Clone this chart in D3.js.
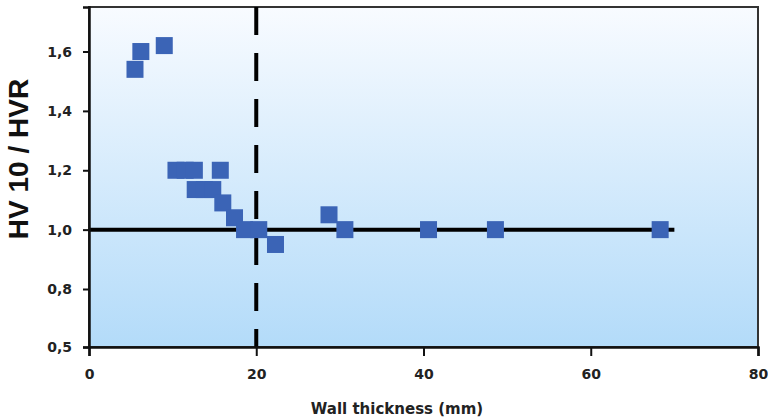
<!DOCTYPE html>
<html>
<head>
<meta charset="utf-8">
<script src="https://cdn.jsdelivr.net/npm/d3@7"></script>
<style>
  body { margin: 0; background: #fff; }
  svg { display: block; }
  .tick text { font-family: "DejaVu Sans", sans-serif; font-weight: bold; font-size: 14px; fill: #222; }
</style>
</head>
<body>
<div id="chart"></div>
<script>
// Data
const thickness = [5.5, 6.2, 9.0, 10.4, 11.5, 12.6, 12.7, 13.8, 14.8, 15.7, 16.0, 17.4, 18.6, 20.3, 22.3, 28.7, 30.6, 40.6, 48.6, 68.3];
const ratio = [1.54, 1.60, 1.62, 1.20, 1.20, 1.20, 1.135, 1.135, 1.135, 1.20, 1.09, 1.04, 1.00, 1.00, 0.95, 1.05, 1.00, 1.00, 1.00, 1.00];
const xTicks = [0, 20, 40, 60, 80];
const yTicks = [0.5, 0.8, 1.0, 1.2, 1.4, 1.6];
const refLevel = 1.0;       // horizontal reference line
const refLineEnd = 70;      // where the reference line stops
const limitThickness = 20;  // dashed vertical line

const width = 768, height = 420;
const margin = { top: 7, right: 10, bottom: 73, left: 89 };
const w = width - margin.left - margin.right;
const h = height - margin.top - margin.bottom;

const svg = d3.select("#chart").append("svg")
    .attr("width", width)
    .attr("height", height);

const defs = svg.append("defs");
const grad = defs.append("linearGradient")
    .attr("id", "bg")
    .attr("x1", 0).attr("y1", 0).attr("x2", 0).attr("y2", 1);
grad.append("stop").attr("offset", "0%").attr("stop-color", "#f8fbff");
grad.append("stop").attr("offset", "100%").attr("stop-color", "#b3dbf9");

const g = svg.append("g")
    .attr("transform", `translate(${margin.left},${margin.top})`);

const x = d3.scaleLinear().domain([0, 80]).range([0, w]);
// the bottom of the axis is labelled 0,5 but sits closer than the 0.2 step
const y = d3.scaleLinear().domain([0.5, 0.8, 1.75]).range([h, 282, 0]);

g.append("rect")
    .attr("width", w)
    .attr("height", h)
    .attr("fill", "url(#bg)")
    .attr("stroke", "#333")
    .attr("stroke-width", 2);

// reference lines
g.append("line")
    .attr("x1", x(0)).attr("x2", x(refLineEnd))
    .attr("y1", y(refLevel)).attr("y2", y(refLevel))
    .attr("stroke", "#000")
    .attr("stroke-width", 4);

g.append("line")
    .attr("x1", x(limitThickness)).attr("x2", x(limitThickness))
    .attr("y1", 0).attr("y2", h)
    .attr("stroke", "#000")
    .attr("stroke-width", 4)
    .attr("stroke-dasharray", "28,18");

// markers
const size = 17;
g.selectAll("rect.pt")
    .data(thickness.map((t, i) => [t, ratio[i]]))
    .join("rect")
    .attr("class", "pt")
    .attr("x", d => x(d[0]) - size / 2)
    .attr("y", d => y(d[1]) - size / 2)
    .attr("width", size)
    .attr("height", size)
    .attr("fill", "#3b64b6");

// axes
const xAxis = g.append("g")
    .attr("transform", `translate(0,${h})`)
    .call(d3.axisBottom(x).tickValues(xTicks).tickSize(9).tickPadding(13));
xAxis.select(".domain").attr("stroke", "#111").attr("stroke-width", 2.5);
xAxis.selectAll(".tick line").attr("stroke", "#111").attr("stroke-width", 2);

const yAxis = g.append("g")
    .call(d3.axisLeft(y).tickValues(yTicks).tickSize(6).tickPadding(11)
        .tickFormat(d => d3.format(".1f")(d).replace(".", ",")));
yAxis.select(".domain").attr("stroke", "#111").attr("stroke-width", 2.5);
yAxis.selectAll(".tick line").attr("stroke", "#111").attr("stroke-width", 2);

// titles
svg.append("text")
    .attr("transform", `translate(28,159) rotate(-90)`)
    .attr("text-anchor", "middle")
    .style("font-family", "'Liberation Sans', Arial, sans-serif")
    .style("font-weight", "bold")
    .style("font-size", "28px")
    .style("fill", "#111")
    .text("HV 10 / HVR");

svg.append("text")
    .attr("x", 397)
    .attr("y", 414)
    .attr("text-anchor", "middle")
    .style("font-family", "'DejaVu Sans', sans-serif")
    .style("font-weight", "bold")
    .style("font-size", "15px")
    .style("fill", "#222")
    .text("Wall thickness (mm)");
</script>
</body>
</html>
